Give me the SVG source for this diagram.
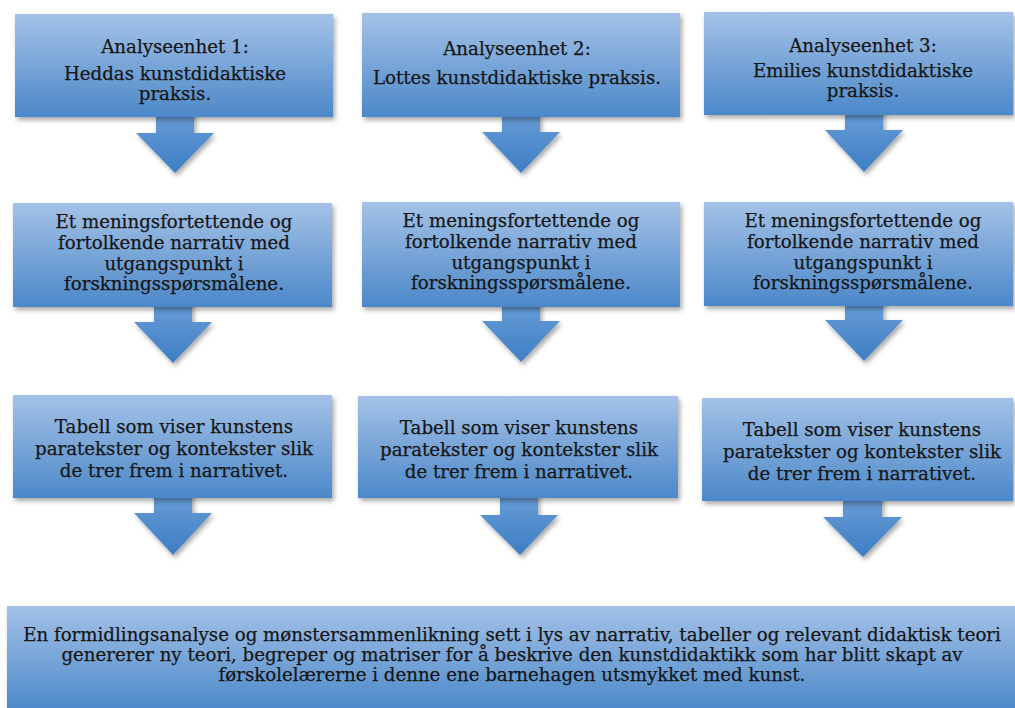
<svg xmlns="http://www.w3.org/2000/svg" width="1015" height="708" viewBox="0 0 1015 708">
<defs>
<linearGradient id="boxGrad" x1="0" y1="0" x2="0" y2="1">
<stop offset="0" stop-color="#a4c2e7"/>
<stop offset="1" stop-color="#4c88c9"/>
</linearGradient>
<linearGradient id="arrGrad" x1="0" y1="0" x2="0" y2="1">
<stop offset="0" stop-color="#6b9fd8"/>
<stop offset="1" stop-color="#3d7dc4"/>
</linearGradient>
<filter id="shadow" x="-5%" y="-10%" width="110%" height="130%">
<feDropShadow dx="2" dy="3" stdDeviation="2.5" flood-color="#000" flood-opacity="0.35"/>
</filter>
</defs>
<style>
.box{fill:url(#boxGrad);filter:url(#shadow)}
.arrow{fill:url(#arrGrad);filter:url(#shadow)}
text{font-family:"DejaVu Serif","Liberation Serif",serif;font-size:18.2px;fill:#161616;stroke:#161616;stroke-width:0.25;text-anchor:middle}
</style>
<rect width="1015" height="708" fill="#ffffff"/>
<g id="connectors">
<path class="arrow" d="M156,110 H194 V133 H214 L175,173 L136,133 H156 Z"/>
<path class="arrow" d="M502,110 H540 V132 H560 L521,173 L482,132 H502 Z"/>
<path class="arrow" d="M845,108 H883 V130 H903 L864,172 L825,130 H845 Z"/>
<path class="arrow" d="M154,300 H192 V322 H212 L173,363 L134,322 H154 Z"/>
<path class="arrow" d="M502,300 H540 V321 H560 L521,362 L482,321 H502 Z"/>
<path class="arrow" d="M845,300 H883 V320 H903 L864,361 L825,320 H845 Z"/>
<path class="arrow" d="M154,490 H192 V513 H212 L173,555 L134,513 H154 Z"/>
<path class="arrow" d="M500,490 H538 V515 H558 L520,555 L480,515 H500 Z"/>
<path class="arrow" d="M843,494 H882 V517 H902 L863,557 L823,517 H843 Z"/>
</g>
<g id="n1">
<rect class="box" x="15" y="14" width="318" height="103"/>
<text x="175" y="53">Analyseenhet 1:</text>
<text x="175" y="80">Heddas kunstdidaktiske</text>
<text x="175" y="100">praksis.</text>
</g>
<g id="n2">
<rect class="box" x="362" y="13" width="318" height="104"/>
<text x="517" y="55">Analyseenhet 2:</text>
<text x="517" y="84">Lottes kunstdidaktiske praksis.</text>
</g>
<g id="n3">
<rect class="box" x="704" y="12" width="309" height="103"/>
<text x="863" y="52">Analyseenhet 3:</text>
<text x="863" y="77">Emilies kunstdidaktiske</text>
<text x="863" y="97">praksis.</text>
</g>
<g id="n4">
<rect class="box" x="13" y="203" width="319" height="104"/>
<text x="174" y="228">Et meningsfortettende og</text>
<text x="174" y="249">fortolkende narrativ med</text>
<text x="174" y="270">utgangspunkt i</text>
<text x="174" y="290">forskningsspørsmålene.</text>
</g>
<g id="n5">
<rect class="box" x="362" y="202" width="318" height="105"/>
<text x="521" y="227">Et meningsfortettende og</text>
<text x="521" y="248">fortolkende narrativ med</text>
<text x="521" y="269">utgangspunkt i</text>
<text x="521" y="289">forskningsspørsmålene.</text>
</g>
<g id="n6">
<rect class="box" x="704" y="202" width="309" height="104"/>
<text x="863" y="227">Et meningsfortettende og</text>
<text x="863" y="248">fortolkende narrativ med</text>
<text x="863" y="269">utgangspunkt i</text>
<text x="863" y="289">forskningsspørsmålene.</text>
</g>
<g id="n7">
<rect class="box" x="13" y="395" width="319" height="103"/>
<text x="174" y="433">Tabell som viser kunstens</text>
<text x="174" y="455">paratekster og kontekster slik</text>
<text x="174" y="477">de trer frem i narrativet.</text>
</g>
<g id="n8">
<rect class="box" x="358" y="396" width="320" height="102"/>
<text x="519" y="434">Tabell som viser kunstens</text>
<text x="519" y="456">paratekster og kontekster slik</text>
<text x="519" y="478">de trer frem i narrativet.</text>
</g>
<g id="n9">
<rect class="box" x="702" y="398" width="311" height="103"/>
<text x="862" y="436">Tabell som viser kunstens</text>
<text x="862" y="458">paratekster og kontekster slik</text>
<text x="862" y="480">de trer frem i narrativet.</text>
</g>
<g id="n10">
<rect class="box" x="7" y="606" width="1010" height="104"/>
<text x="512" y="641">En formidlingsanalyse og mønstersammenlikning sett i lys av narrativ, tabeller og relevant didaktisk teori</text>
<text x="512" y="661">genererer ny teori, begreper og matriser for å beskrive den kunstdidaktikk som har blitt skapt av</text>
<text x="512" y="681">førskolelærerne i denne ene barnehagen utsmykket med kunst.</text>
</g>
</svg>
